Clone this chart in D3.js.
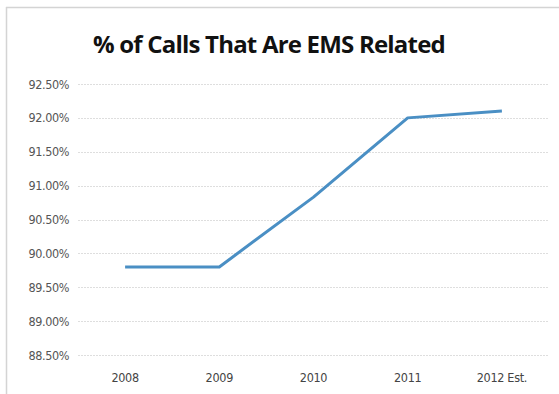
<!DOCTYPE html>
<html><head><meta charset="utf-8">
<script src="https://cdn.jsdelivr.net/npm/d3@7"></script>
<style>body{margin:0;background:#fff;} svg{display:block;}</style>
</head><body>
<svg id="chart" width="559" height="394"></svg>
<script>
const categories = ["2008", "2009", "2010", "2011", "2012 Est."];
const values = [89.80, 89.80, 90.83, 92.00, 92.10];
const yTicks = [88.5, 89.0, 89.5, 90.0, 90.5, 91.0, 91.5, 92.0, 92.5];
const title = "% of Calls That Are EMS Related";

const svg = d3.select("#chart");
const W = 559, H = 394;
const m = {left: 78, right: 10, top: 84, bottom: 39};

// frame
svg.append("line").attr("x1", 6.5).attr("x2", 6.5).attr("y1", 7).attr("y2", H).attr("stroke", "#d4d4d4").attr("stroke-width", 1.5);
svg.append("line").attr("x1", 6).attr("x2", W).attr("y1", 7.5).attr("y2", 7.5).attr("stroke", "#d4d4d4").attr("stroke-width", 1.5);

svg.append("text").attr("x", 269).attr("y", 53).attr("text-anchor", "middle")
  .attr("font-family", "Open Sans, Liberation Sans, sans-serif").attr("font-weight", "bold")
  .attr("font-size", 24).attr("letter-spacing", -0.8).attr("fill", "#111").text(title);

const x = d3.scaleBand().domain(categories).range([m.left, W - m.right]);
const y = d3.scaleLinear().domain([88.5, 92.5]).range([H - m.bottom, m.top]);

const grid = svg.append("g");
grid.selectAll("line").data(yTicks).join("line")
  .attr("x1", m.left).attr("x2", W - m.right)
  .attr("y1", d => Math.round(y(d)) + 0.5).attr("y2", d => Math.round(y(d)) + 0.5)
  .attr("stroke", "#dedede").attr("stroke-width", 1).attr("stroke-dasharray", "2,1");

const yAxis = d3.axisLeft(y).tickValues(yTicks).tickSize(0).tickPadding(9)
  .tickFormat(d => d.toFixed(2) + "%");
const gy = svg.append("g").attr("transform", `translate(${m.left},0)`).call(yAxis);
gy.select(".domain").remove();
gy.selectAll("text").attr("font-family", "DejaVu Sans Condensed, DejaVu Sans, sans-serif")
  .attr("font-size", 12.5).attr("fill", "#555").attr("letter-spacing", -0.4);

const xAxis = d3.axisBottom(x).tickSize(0).tickPadding(18);
const gx = svg.append("g").attr("transform", `translate(0,${H - m.bottom})`).call(xAxis);
gx.select(".domain").remove();
gx.selectAll("text").attr("font-family", "DejaVu Sans Condensed, DejaVu Sans, sans-serif")
  .attr("font-size", 12.5).attr("fill", "#444").attr("letter-spacing", -0.3);

const line = d3.line().x((d, i) => x(categories[i]) + x.bandwidth() / 2).y(d => y(d));
svg.append("path").datum(values).attr("d", line).attr("fill", "none")
  .attr("stroke", "#4a8fc4").attr("stroke-width", 3).attr("stroke-linejoin", "round");
</script>
</body></html>
